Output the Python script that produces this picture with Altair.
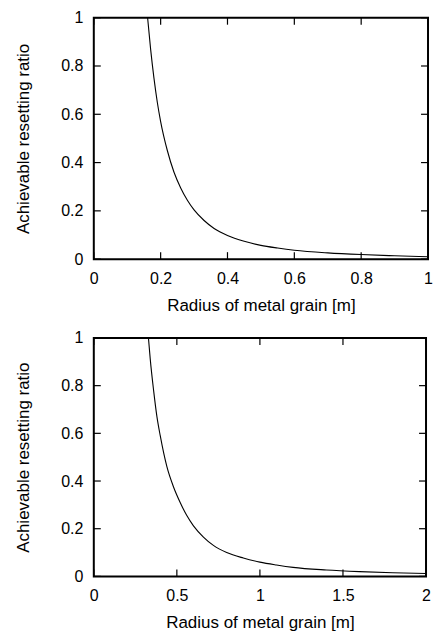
import altair as alt
import pandas as pd

# Values
top_radius = [0.161, 0.17, 0.18, 0.19, 0.20, 0.22, 0.24, 0.26, 0.28, 0.30, 0.33,
              0.36, 0.40, 0.45, 0.50, 0.55, 0.60, 0.70, 0.80, 0.90, 1.00]
top_ratio = [1.0, 0.87, 0.75, 0.65, 0.57, 0.45, 0.36, 0.295, 0.244, 0.204, 0.16,
             0.127, 0.098, 0.074, 0.057, 0.046, 0.037, 0.026, 0.019, 0.014, 0.010]

bottom_radius = [0.329, 0.34, 0.36, 0.38, 0.40, 0.44, 0.48, 0.52, 0.56, 0.60, 0.66,
                 0.72, 0.80, 0.90, 1.00, 1.10, 1.20, 1.40, 1.60, 1.80, 2.00]
bottom_ratio = [1.0, 0.91, 0.78, 0.67, 0.59, 0.46, 0.375, 0.31, 0.255, 0.212, 0.165,
                0.13, 0.10, 0.077, 0.060, 0.048, 0.038, 0.027, 0.020, 0.015, 0.012]

top_x_ticks = [0, 0.2, 0.4, 0.6, 0.8, 1.0]
bottom_x_ticks = [0, 0.5, 1.0, 1.5, 2.0]
y_ticks = [0, 0.2, 0.4, 0.6, 0.8, 1.0]

x_title = "Radius of metal grain [m]"
y_title = "Achievable resetting ratio"

FONT = "Liberation Sans"
TICK = 7


def panel(radius, ratio, xticks, xmax, w, h):
    xs = alt.Scale(domain=[0, xmax], nice=False, zero=True)
    ys = alt.Scale(domain=[0, 1], nice=False)
    x_axis = alt.Axis(values=xticks, format="~g", ticks=False, domain=False,
                      grid=False, labelPadding=11, titlePadding=11.5, title=x_title,
                      labelFlush=False)
    y_axis = alt.Axis(values=y_ticks, format="~g", ticks=False, domain=False,
                      grid=False, labelPadding=11, titlePadding=28, title=y_title)
    curve_df = pd.DataFrame({"r": radius, "a": ratio})
    xt_df = pd.DataFrame({"r": xticks})
    yt_df = pd.DataFrame({"a": y_ticks})

    line = alt.Chart(curve_df).mark_line(
        color="black", strokeWidth=1.1, interpolate="monotone"
    ).encode(
        x=alt.X("r:Q", scale=xs, axis=x_axis),
        y=alt.Y("a:Q", scale=ys, axis=y_axis),
    )
    rule = dict(color="black", strokeWidth=1.2)
    xb = alt.Chart(xt_df).mark_rule(**rule).encode(
        x=alt.X("r:Q", scale=xs), y=alt.value(h), y2=alt.value(h - TICK))
    xt = alt.Chart(xt_df).mark_rule(**rule).encode(
        x=alt.X("r:Q", scale=xs), y=alt.value(0), y2=alt.value(TICK))
    yl = alt.Chart(yt_df).mark_rule(**rule).encode(
        y=alt.Y("a:Q", scale=ys), x=alt.value(0), x2=alt.value(TICK))
    yr = alt.Chart(yt_df).mark_rule(**rule).encode(
        y=alt.Y("a:Q", scale=ys), x=alt.value(w - TICK), x2=alt.value(w))
    return alt.layer(line, xb, xt, yl, yr).properties(width=w, height=h)


top = panel(top_radius, top_ratio, top_x_ticks, 1.0, 335, 242)
bottom = panel(bottom_radius, bottom_ratio, bottom_x_ticks, 2.0, 333, 239)

chart = alt.vconcat(top, bottom, spacing=14).properties(
    padding={"top": 0, "left": 5, "right": 0, "bottom": 0},
    background="white",
).configure_view(
    stroke="black", strokeWidth=2
).configure_axis(
    labelFont=FONT, titleFont=FONT, labelFontSize=16, titleFontSize=17,
    titleFontWeight="normal", labelColor="black", titleColor="black"
)

chart.save("out.html", embed_options={"renderer": "svg", "actions": False})
